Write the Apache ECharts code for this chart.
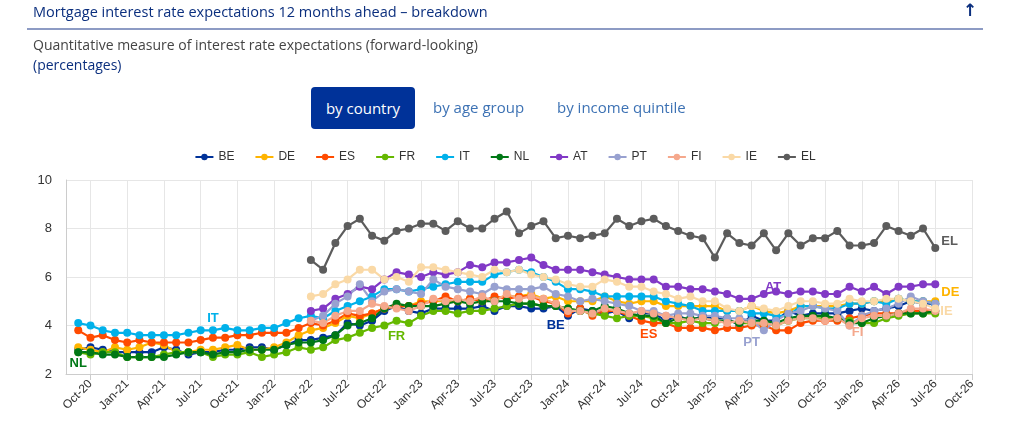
<!DOCTYPE html>
<html lang="en">
<head>
  <meta charset="utf-8">
  <title>Mortgage interest rate expectations 12 months ahead – breakdown</title>
  <style>
    html, body {
      margin: 0;
      padding: 0;
      width: 1024px;
      height: 432px;
      overflow: hidden;
      background: #fff;
      font-family: "Open Sans", "Noto Sans", sans-serif;
    }
    #chart { position: absolute; left: 27px; top: 0; width: 956px; height: 432px; }
    .txt { position: absolute; white-space: nowrap; z-index: 2; }
    #title { left: 33px; top: 2px; font-size: 14.5px; color: #0b2f7e; }
    #arrow { left: 963px; top: 0px; font-family: "DejaVu Sans", sans-serif; font-size: 17px; font-weight: bold; color: #0b2f7e; }
    #rule { position: absolute; left: 27px; top: 28px; width: 956px; height: 2px; background: #8d9bc4; }
    #sub { left: 33px; top: 35px; font-size: 14px; color: #444; }
    #unit { left: 33px; top: 55px; font-size: 14px; color: #0b2f7e; }
    #tab1 { left: 311px; top: 87px; width: 104px; height: 42px; line-height: 42px; text-align: center;
            background: #003299; color: #fff; border-radius: 4px; font-size: 15px; }
    #tab2 { left: 433px; top: 97px; font-size: 15px; color: #3d72b4; }
    #tab3 { left: 557px; top: 97px; font-size: 15px; color: #3d72b4; }
  </style>
</head>
<body>
  <div id="chart"></div>
  <div class="txt" id="title">Mortgage interest rate expectations 12 months ahead – breakdown</div>
  <div class="txt" id="arrow">↑</div>
  <div id="rule"></div>
  <div class="txt" id="sub">Quantitative measure of interest rate expectations (forward-looking)</div>
  <div class="txt" id="unit">(percentages)</div>
  <div class="txt" id="tab1">by country</div>
  <div class="txt" id="tab2">by age group</div>
  <div class="txt" id="tab3">by income quintile</div>

  <script src="https://cdn.jsdelivr.net/npm/echarts@6/dist/echarts.min.js"></script>
  <script>
    // axis runs Aug-20 .. Oct-26, one category per month
    var monthNames = ['Jan', 'Feb', 'Mar', 'Apr', 'May', 'Jun', 'Jul', 'Aug', 'Sep', 'Oct', 'Nov', 'Dec'];
    var months = [];
    for (var y = 2020; y <= 2026; y++) {
      for (var m = 0; m < 12; m++) {
        if ((y === 2020 && m < 7) || (y === 2026 && m > 9)) continue;
        months.push(monthNames[m] + '-' + String(y).slice(2));
      }
    }

    var countries = ['BE', 'DE', 'ES', 'FR', 'IT', 'NL', 'AT', 'PT', 'FI', 'IE', 'EL'];
    var colors = ['#003299', '#ffb400', '#ff4b00', '#65b800', '#00b1ea', '#007816',
                  '#8139c6', '#98a1d0', '#f5a88c', '#fad9a6', '#5c5c5c'];

    // first month of each series
    var start = {
      BE: 'Sep-20', DE: 'Sep-20', ES: 'Sep-20', FR: 'Sep-20', IT: 'Sep-20', NL: 'Sep-20',
      AT: 'Apr-22', PT: 'Apr-22', FI: 'Apr-22', IE: 'Apr-22', EL: 'Apr-22'
    };

    var BE = [3.0, 3.1, 3.0, 2.9, 2.9, 2.9, 2.9, 3.1, 3.0, 2.8, 2.9, 2.9, 3.0, 3.0, 3.1, 3.1, 3.0, 3.2, 3.4,
      3.4, 3.5, 3.6, 4.1, 4.0, 4.2, 4.6, 4.8, 4.6,
      4.5, 4.7, 4.7, 4.7, 4.7, 4.8, 4.6, 4.8, 4.8, 4.7, 4.7, 4.8,
      4.4, 4.7, 4.6, 4.5, 4.6, 4.3, 4.5, 4.5, 4.2, 4.4, 4.2, 4.4,
      4.3, 4.3, 4.0, 4.4, 4.2, 4.2, 4.6, 4.4, 4.5, 4.5, 4.5, 4.6,
      4.7, 4.6, 4.7, 4.8, 5.0, 4.9, 4.9];
    var DE = [3.1, 3.0, 2.9, 3.1, 3.0, 3.1, 3.3, 3.2, 2.9, 2.9, 3.0, 3.0, 3.1, 3.2, 3.0, 3.0, 3.1, 3.3, 3.6,
      3.8, 3.9, 4.1, 4.4, 4.3, 4.5, 4.7, 4.8, 4.8,
      5.0, 5.0, 5.0, 5.0, 5.1, 5.0, 5.1, 5.2, 5.2, 5.3, 5.1, 5.2,
      5.0, 5.0, 5.0, 5.2, 5.0, 4.9, 5.0, 5.0, 4.8, 4.8, 4.8, 4.8,
      4.8, 4.6, 4.6, 4.8, 4.6, 4.5, 4.6, 4.8, 4.8, 4.8, 4.8, 4.9,
      4.9, 5.0, 5.0, 5.1, 5.0, 5.0, 5.0];
    var ES = [3.8, 3.5, 3.6, 3.4, 3.3, 3.4, 3.3, 3.3, 3.3, 3.3, 3.4, 3.5, 3.5, 3.6, 3.6, 3.7, 3.7, 3.7, 3.9,
      4.1, 4.0, 4.2, 4.5, 4.4, 4.5, 4.7, 4.8, 4.8,
      4.9, 5.0, 5.2, 5.0, 5.1, 5.0, 5.2, 5.1, 5.2, 5.2, 5.0, 4.9,
      4.5, 4.7, 4.4, 4.6, 4.6, 4.4, 4.2, 4.1, 4.1, 3.9, 3.9, 3.9,
      3.8, 3.9, 3.9, 4.0, 4.0, 3.8, 3.8, 4.1, 4.2, 4.2, 4.2, 4.3,
      4.4, 4.5, 4.5, 4.5, 4.6, 4.6, 4.6];
    var FR = [2.9, 2.8, 2.9, 2.9, 2.7, 2.7, 2.7, 2.8, 2.9, 2.9, 2.9, 2.7, 2.8, 2.8, 2.9, 2.7, 2.8, 2.9, 3.1,
      3.0, 3.1, 3.4, 3.5, 3.7, 3.9, 4.0, 4.2, 4.1,
      4.4, 4.6, 4.6, 4.5, 4.6, 4.6, 4.7, 4.8, 4.9, 4.9, 4.8, 4.8,
      4.7, 4.6, 4.5, 4.4, 4.3, 4.4, 4.4, 4.3, 4.1, 4.1, 4.2, 4.1,
      4.1, 4.2, 4.1, 4.1, 4.1, 4.0, 4.2, 4.3, 4.3, 4.3, 4.3, 4.2,
      4.1, 4.1, 4.3, 4.4, 4.5, 4.5, 4.5];
    var IT = [4.1, 4.0, 3.8, 3.7, 3.7, 3.6, 3.6, 3.6, 3.6, 3.7, 3.8, 3.8, 3.9, 3.8, 3.8, 3.9, 3.9, 4.1, 4.3,
      4.4, 4.3, 4.6, 4.8, 5.0, 5.2, 5.5, 5.5, 5.4,
      5.5, 5.6, 5.7, 5.8, 5.8, 5.8, 6.1, 6.2, 6.3, 6.2, 6.0, 5.8,
      5.5, 5.5, 5.4, 5.2, 5.2, 5.2, 5.2, 5.2, 5.0, 4.9, 4.8, 4.6,
      4.6, 4.6, 4.6, 4.5, 4.5, 4.4, 4.4, 4.8, 4.8, 4.7, 4.7, 4.9,
      4.9, 5.0, 4.9, 5.1, 5.0, 5.0, 4.9];
    var NL = [2.9, 2.9, 2.8, 2.8, 2.7, 2.7, 2.7, 2.7, 2.8, 2.9, 2.9, 2.8, 2.9, 2.9, 3.0, 3.0, 3.0, 3.2, 3.3,
      3.3, 3.4, 3.6, 4.0, 4.1, 4.3, 4.7, 4.9, 4.8,
      4.8, 4.8, 4.9, 5.0, 4.9, 5.0, 5.0, 5.0, 4.9, 4.9, 4.8, 4.8,
      4.7, 4.6, 4.6, 4.8, 4.7, 4.5, 4.4, 4.4, 4.1, 4.3, 4.3, 4.3,
      4.2, 4.2, 4.1, 4.2, 4.2, 4.1, 4.3, 4.4, 4.4, 4.4, 4.3, 4.1,
      4.1, 4.3, 4.4, 4.5, 4.5, 4.5, 4.6];
    var AT = [4.6, 4.7, 5.1, 5.3, 5.6, 5.5, 5.9, 6.2, 6.1,
      6.0, 6.2, 6.1, 6.2, 6.5, 6.4, 6.6, 6.6, 6.7, 6.8, 6.5, 6.3,
      6.3, 6.3, 6.2, 6.1, 6.0, 5.9, 5.9, 5.9, 5.6, 5.6, 5.5, 5.5,
      5.4, 5.3, 5.1, 5.1, 5.3, 5.4, 5.3, 5.4, 5.4, 5.3, 5.3, 5.6,
      5.4, 5.6, 5.3, 5.6, 5.6, 5.7, 5.7];
    var PT = [4.2, 4.4, 4.9, 5.2, 5.7, 5.0, 5.4, 5.5, 5.4,
      5.3, 5.9, 5.6, 5.5, 5.4, 5.3, 5.6, 5.5, 5.5, 5.5, 5.6, 5.3,
      5.2, 5.0, 5.1, 5.0, 4.9, 4.8, 4.6, 4.6, 4.4, 4.5, 4.5, 4.4,
      4.4, 4.3, 4.3, 4.2, 3.8, 4.2, 4.5, 4.6, 4.8, 4.7, 4.6, 4.0,
      4.4, 4.6, 4.7, 4.9, 5.2, 5.0, 4.9];
    var FI = [4.2, 4.1, 4.4, 4.6, 4.6, 4.9, 4.8, 4.7, 4.6,
      4.8, 5.1, 5.0, 5.1, 5.0, 5.2, 5.0, 5.3, 5.1, 5.2, 5.1, 4.9,
      4.6, 4.6, 4.5, 4.7, 4.6, 4.5, 4.6, 4.5, 4.4, 4.3, 4.2, 4.3,
      4.2, 4.1, 4.2, 4.1, 4.1, 4.0, 4.2, 4.3, 4.3, 4.2, 4.3, 4.0,
      4.3, 4.4, 4.4, 4.5, 4.7, 4.7, 4.6];
    var IE = [5.2, 5.3, 5.7, 5.9, 6.3, 6.3, 5.9, 6.0, 5.8,
      6.4, 6.4, 6.3, 6.2, 6.1, 6.0, 6.3, 6.2, 6.3, 6.1, 6.0, 5.9,
      5.7, 5.6, 5.6, 5.9, 5.8, 5.6, 5.6, 5.4, 5.3, 5.1, 5.2, 5.0,
      5.0, 4.7, 4.6, 4.8, 4.7, 4.6, 4.8, 5.0, 5.0, 4.9, 4.9, 5.1,
      5.0, 5.0, 5.1, 5.1, 5.0, 4.9, 4.7];
    var EL = [6.7, 6.3, 7.4, 8.1, 8.4, 7.7, 7.5, 7.9, 8.0,
      8.2, 8.2, 7.9, 8.3, 8.0, 8.0, 8.4, 8.7, 7.8, 8.1, 8.3, 7.6,
      7.7, 7.6, 7.7, 7.8, 8.4, 8.1, 8.3, 8.4, 8.1, 7.9, 7.7, 7.6,
      6.8, 7.8, 7.4, 7.3, 7.8, 7.1, 7.8, 7.3, 7.6, 7.6, 7.9, 7.3,
      7.3, 7.4, 8.1, 7.9, 7.7, 8.0, 7.2];

    var values = { BE: BE, DE: DE, ES: ES, FR: FR, IT: IT, NL: NL, AT: AT, PT: PT, FI: FI, IE: IE, EL: EL };

    // in-chart series names: month, position, distance, offset
    var tags = {
      NL: ['Sep-20', 'bottom', 1, [0, 0]],
      IT: ['Aug-21', 'top', 1, [0, 0]],
      FR: ['Nov-22', 'bottom', 5, [0, 0]],
      BE: ['Dec-23', 'bottom', 9, [0, 0]],
      ES: ['Aug-24', 'bottom', 1, [-5, 0]],
      PT: ['Apr-25', 'bottom', 11, [0, 0]],
      AT: ['Jun-25', 'top', 0, [-3, 6]],
      FI: ['Dec-25', 'bottom', 0, [8, -4]],
      EL: ['Jul-26', 'right', 2, [0, -6]],
      DE: ['Jul-26', 'right', 2, [0, -9]],
      IE: ['Jul-26', 'right', 1, [0, 3]]
    };

    function seriesData(name, color) {
      var first = months.indexOf(start[name]);
      var tag = tags[name];
      return months.map(function (mo, i) {
        var v = values[name][i - first];
        if (v === undefined) return null;
        if (tag && mo === tag[0]) {
          return {
            value: v,
            label: {
              show: true, formatter: name, position: tag[1], distance: tag[2], offset: tag[3],
              color: color, fontWeight: 'bold', fontSize: 13
            }
          };
        }
        return v;
      });
    }

    function quarterly(index, value) {
      return /^(Jan|Apr|Jul|Oct)/.test(value);
    }

    var chart = echarts.init(document.getElementById('chart'));
    chart.setOption({
      animation: false,
      color: colors,
      textStyle: { fontFamily: '"Liberation Sans", Arial, sans-serif' },
      legend: {
        top: 146,
        left: 'center',
        itemWidth: 18,
        itemHeight: 8,
        itemGap: 20,
        textStyle: { fontSize: 12, color: '#333' },
        data: countries
      },
      grid: { left: 39, right: 11, top: 180, bottom: 58 },
      xAxis: {
        type: 'category',
        data: months,
        boundaryGap: false,
        axisLine: { lineStyle: { color: '#ccc' } },
        axisTick: { show: true, interval: quarterly, length: 6, lineStyle: { color: '#ccc' } },
        axisLabel: { interval: quarterly, rotate: 45, fontSize: 12, color: '#333', margin: 8 },
        splitLine: { show: true, interval: quarterly, lineStyle: { color: '#e6e6e6' } }
      },
      yAxis: {
        type: 'value',
        min: 2,
        max: 10,
        interval: 2,
        axisLine: { show: true, lineStyle: { color: '#ccc' } },
        axisTick: { show: false },
        axisLabel: { fontSize: 13, color: '#333', margin: 14 },
        splitLine: { lineStyle: { color: '#e6e6e6' } }
      },
      series: countries.map(function (name, k) {
        return {
          name: name,
          type: 'line',
          data: seriesData(name, colors[k]),
          symbol: 'circle',
          symbolSize: 8,
          showAllSymbol: true,
          lineStyle: { width: 2.2 },
          emphasis: { disabled: true }
        };
      })
    });
  </script>
</body>
</html>
